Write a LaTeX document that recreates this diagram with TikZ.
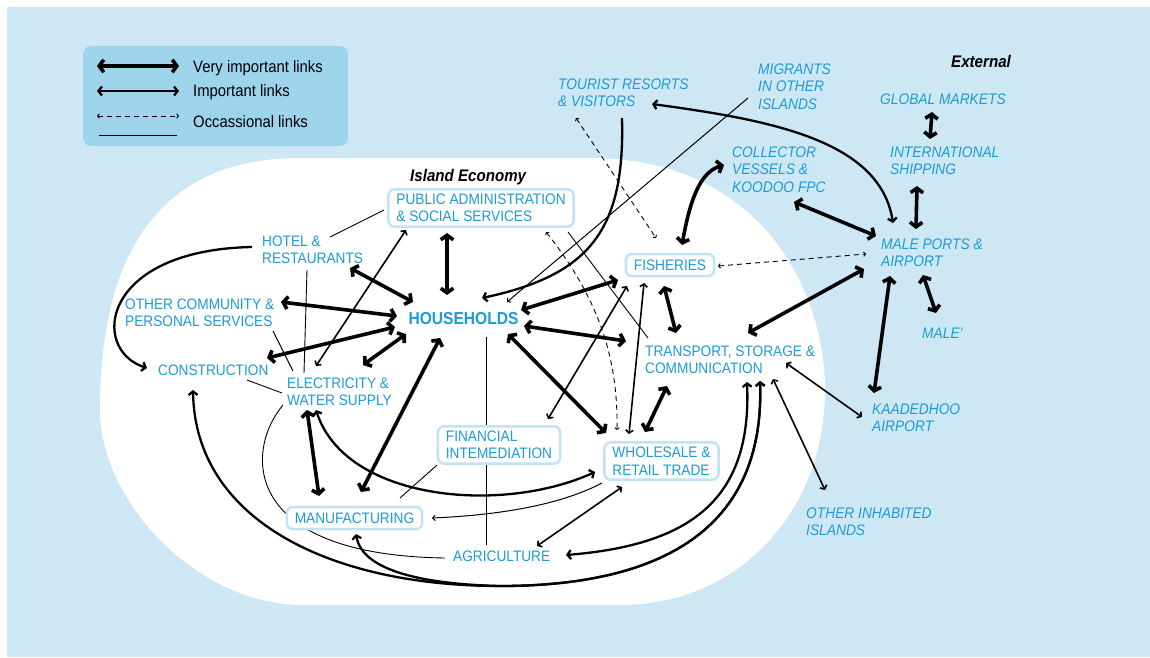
\documentclass[tikz,border=0pt]{standalone}
\usepackage{fontspec}
\setmainfont{Liberation Sans}[FakeStretch=0.9]
\usetikzlibrary{arrows.meta,calc}
\definecolor{bgblue}{HTML}{CDE8F4}
\definecolor{legblue}{HTML}{9DD4EC}
\definecolor{boxline}{HTML}{C2E3F3}
\definecolor{txtblue}{HTML}{1E9AD6}
\pgfdeclarelayer{bg}\pgfdeclarelayer{edges}
\pgfsetlayers{bg,edges,main}
\begin{document}
\begin{tikzpicture}[x=1pt,y=-1pt,
  lbl/.style={inner sep=0pt,anchor=north west,align=left,text=txtblue,font=\fontsize{15.2}{17.5}\selectfont},
  ext/.style={lbl,font=\fontsize{15.3}{17.5}\selectfont\itshape},
  bx/.style={draw=boxline,line width=2.5pt,fill=white,rounded corners=6pt,inner xsep=8pt,inner ysep=4.5pt,align=left,text=txtblue,font=\fontsize{15.2}{17.5}\selectfont},
  bxone/.style={bx,minimum height=22pt},
  head/.style={inner sep=0pt,anchor=base west,font=\fontsize{16.8}{19}\selectfont\bfseries\itshape},
  legtxt/.style={inner sep=0pt,anchor=base west,font=\fontsize{16.5}{19}\selectfont},
  vi/.style={line width=3.6pt,>={Straight Barb[length=4.5pt,width=12.5pt]}},
  imp/.style={line width=2.3pt,>={Straight Barb[length=3.5pt,width=9pt]}},
  med/.style={line width=1.6pt,>={Straight Barb[length=3pt,width=7.5pt]}},
  thinarr/.style={line width=1pt,>={Straight Barb[length=2.5pt,width=5.5pt]}},
  occ/.style={line width=0.9pt,dash pattern=on 5pt off 4pt,>={Straight Barb[length=1.8pt,width=4.5pt]}},
  plain/.style={line width=0.9pt}
]
\useasboundingbox (0,0) rectangle (1150,657);
\begin{pgfonlayer}{bg}
\fill[white] (0,0) rectangle (1150,657);
\fill[bgblue] (7,7) rectangle (1150,657);
\fill[white] (100,410) .. controls (100,240) and (170,158) .. (300,158)
  -- (590,158) .. controls (760,158) and (825,290) .. (825,390)
  .. controls (825,510) and (740,605) .. (620,605)
  -- (300,605) .. controls (195,603) and (100,500) .. (100,410) -- cycle;
\fill[legblue,rounded corners=8pt] (83,46) rectangle (348,146);
\end{pgfonlayer}

% legend
\draw[vi,<->] (97,66) -- (179,66);
\draw[imp,<->] (97,91) -- (179,91);
\draw[occ,<->] (97,116) -- (179,116);
\draw[plain] (99,135) -- (177,135);
\node[legtxt] (lg1) at (193,72) {Very important links};
\node[legtxt] (lg2) at (193,96.5) {Important links};
\node[legtxt] (lg3) at (193,127) {Occassional links};

\node[head] (ext) at (951,67.5) {External};
\node[head] (isl) at (410,181) {Island Economy};

% island nodes
\node[bx] (pub) at (481,208) {PUBLIC ADMINISTRATION\\\& SOCIAL SERVICES};
\node[bxone] (fish) at (670,265) {FISHERIES};
\node[bx] (whole) at (661.5,461) {WHOLESALE \&\\RETAIL TRADE};
\node[bx] (fin) at (499,445) {FINANCIAL\\INTEMEDIATION};
\node[bxone] (manu) at (354.5,518) {MANUFACTURING};
\node[inner sep=0pt,text=txtblue,font=\fontsize{17.3}{19}\selectfont\bfseries] (hh) at (463.5,319) {HOUSEHOLDS};
\node[lbl] (hotel) at (262,235.5) {HOTEL \&\\RESTAURANTS};
\node[lbl] (other) at (125,298.5) {OTHER COMMUNITY \&\\PERSONAL SERVICES};
\node[lbl] (cons) at (158,364.5) {CONSTRUCTION};
\node[lbl] (elec) at (287,377.5) {ELECTRICITY \&\\WATER SUPPLY};
\node[lbl] (trans) at (645,345.5) {TRANSPORT, STORAGE \&\\COMMUNICATION};
\node[lbl] (agri) at (453,550.5) {AGRICULTURE};

% external nodes
\node[ext] (tour) at (558,78.5) {TOURIST RESORTS\\\& VISITORS};
\node[ext] (migr) at (758,63.5) {MIGRANTS\\IN OTHER\\ISLANDS};
\node[ext] (glob) at (880,93.5) {GLOBAL MARKETS};
\node[ext] (ship) at (890,146.5) {INTERNATIONAL\\SHIPPING};
\node[ext] (coll) at (732,146.5) {COLLECTOR\\VESSELS \&\\KOODOO FPC};
\node[ext] (mp) at (881,238.5) {MALE PORTS \&\\AIRPORT};
\node[ext] (male) at (922,327.5) {MALE'};
\node[ext] (kaad) at (872,403.5) {KAADEDHOO\\AIRPORT};
\node[ext] (oi) at (806,507.5) {OTHER INHABITED\\ISLANDS};

\coordinate (bot) at (500,586);

\begin{pgfonlayer}{edges}
% very important
\draw[vi,<->] ($(pub.center)+(-34,25)$) -- ($(hh.center)+(-16.5,-24)$);
\draw[vi,<->] ($(hotel.north west)+(88,32.5)$) -- ($(hh.center)+(-50.5,-17)$);
\draw[vi,<->] ($(other.north west)+(156,3.5)$) -- ($(hh.center)+(-66.5,-3)$);
\draw[vi,<->] ($(cons.north west)+(109,-6.5)$) -- ($(hh.center)+(-68.5,8)$);
\draw[vi,<->] ($(elec.north west)+(76,-12.5)$) -- ($(hh.center)+(-57.5,15)$);
\draw[vi,<->] ($(hh.center)+(-23.5,19)$) -- ($(manu.center)+(6.5,-26)$);
\draw[vi,<->] ($(hh.center)+(57.5,-9)$) -- ($(fish.center)+(-52,15)$);
\draw[vi,<->] ($(hh.center)+(60.5,7)$) -- ($(trans.north west)+(-19,-4.5)$);
\draw[vi,<->] ($(hh.center)+(44.5,15)$) -- ($(whole.center)+(-55.5,-28)$);
\draw[vi,<->] ($(elec.north west)+(20,32.5)$) -- ($(manu.center)+(-35.5,-22)$);
\draw[vi,<->] ($(fish.center)+(-6,21)$) -- ($(trans.north west)+(31,-12.5)$);
\draw[vi,<->] ($(trans.north west)+(22,40.5)$) -- ($(whole.center)+(-16.5,-29)$);
\draw[vi,<->] ($(fish.center)+(12,-20)$) .. controls +(8,-45) and +(-24,7) .. ($(coll.north west)+(-8,18.5)$);
\draw[vi,<->] ($(coll.north west)+(62,55.5)$) -- ($(mp.north west)+(-5,-2.5)$);
\draw[vi,<->] ($(ship.north west)+(27,39.5)$) -- ($(mp.north west)+(35,-9.5)$);
\draw[vi,<->] ($(glob.north west)+(52,18.5)$) -- ($(ship.north west)+(40,-7.5)$);
\draw[vi,<->] ($(mp.north west)+(42,36.5)$) -- ($(male.north west)+(14,-14.5)$);
\draw[vi,<->] ($(mp.north west)+(9,37.5)$) -- ($(kaad.north west)+(2,-10.5)$);
\draw[vi,<->] ($(mp.north west)+(-17,30.5)$) -- ($(trans.north west)+(103,-12.5)$);
% important
\draw[imp,->] ($(tour.north west)+(64,39.5)$) .. controls +(3,112) and +(108,-23) .. ($(hh.center)+(18.5,-21)$);
\draw[imp,<->] ($(tour.north west)+(94,25.5)$) .. controls +(118,16) and +(-13,-83) .. ($(mp.north west)+(12,-15.5)$);
\draw[imp,->] ($(hotel.north west)+(-10,11.5)$) .. controls +(-152,3) and +(-57,-18) .. ($(cons.north west)+(-11,3.5)$);
\draw[imp,<->] ($(cons.north west)+(35,25.5)$) .. controls +(2,130) and +(-170,0) .. (bot) .. controls +(160,0) and +(5,149) .. ($(trans.north west)+(115,35.5)$);
\draw[imp,<->] ($(manu.center)+(1.5,16)$) .. controls +(6,36) and +(-80,-2) .. (bot) .. controls +(160,0) and +(5,149) .. ($(trans.north west)+(115,35.5)$);
\draw[imp,<->] ($(trans.north west)+(102,36.5)$) .. controls +(5,118) and +(124,-10) .. ($(agri.north west)+(113,4.5)$);
\draw[imp,<->] ($(elec.north west)+(29,32.5)$) .. controls +(29,90) and +(-95,43) .. ($(whole.center)+(-66.5,11)$);
\draw[med,<->] ($(agri.north west)+(84,-4.5)$) -- ($(whole.center)+(-39.5,26)$);
% medium
\draw[med,<->] ($(elec.north west)+(29,-11.5)$) -- ($(pub.center)+(-75,22)$);
\draw[med,<->] ($(fin.center)+(49,-26)$) -- ($(fish.center)+(-43,21)$);
\draw[med,<->] ($(fish.center)+(-26,18)$) -- ($(whole.center)+(-32.5,-27)$);
\draw[med,<->] ($(trans.north west)+(141,17.5)$) -- ($(kaad.north west)+(-10,13.5)$);
\draw[med,<->] ($(trans.north west)+(128,33.5)$) -- ($(oi.north west)+(19,-17.5)$);
% thin arrows
\draw[thinarr,->] ($(whole.center)+(-59.5,22)$) .. controls +(-42,22) and +(68,-3) .. ($(manu.center)+(77.5,0)$);
\draw[thinarr,->] ($(migr.north west)+(-10,34.5)$) -- ($(hh.center)+(43.5,-17)$);
% plain
\draw[plain] ($(elec.north west)+(-4,27.5)$) .. controls +(-38,45) and +(-205,-3) .. ($(agri.north west)+(-8,7.5)$);
\draw[plain] ($(fin.center)+(-62,20)$) -- ($(manu.center)+(45.5,-20)$);
\draw[plain] ($(hh.center)+(22.5,18)$) -- ($(agri.north west)+(33,-5.5)$);
\draw[plain] ($(hotel.north west)+(68,1.5)$) -- ($(pub.center)+(-97,2)$);
\draw[plain] ($(hotel.north west)+(45,34.5)$) -- ($(elec.north west)+(17,-4.5)$);
\draw[plain] ($(other.north west)+(148,32.5)$) -- ($(elec.north west)+(6,-6.5)$);
\draw[plain] ($(cons.north west)+(89,15.5)$) -- ($(elec.north west)+(-5,15.5)$);
\draw[plain] ($(pub.center)+(87,24)$) -- ($(trans.north west)+(3,-7.5)$);
% occasional
\draw[occ,<->] ($(pub.center)+(65,24)$) .. controls +(54,68) and +(1,-70) .. ($(whole.center)+(-44.5,-31)$);
\draw[occ,<->] ($(tour.north west)+(18,39.5)$) -- ($(fish.center)+(-14,-27)$);
\draw[occ,<->] ($(fish.center)+(48,1)$) -- ($(mp.north west)+(-15,15.5)$);
\end{pgfonlayer}
\end{tikzpicture}
\end{document}
